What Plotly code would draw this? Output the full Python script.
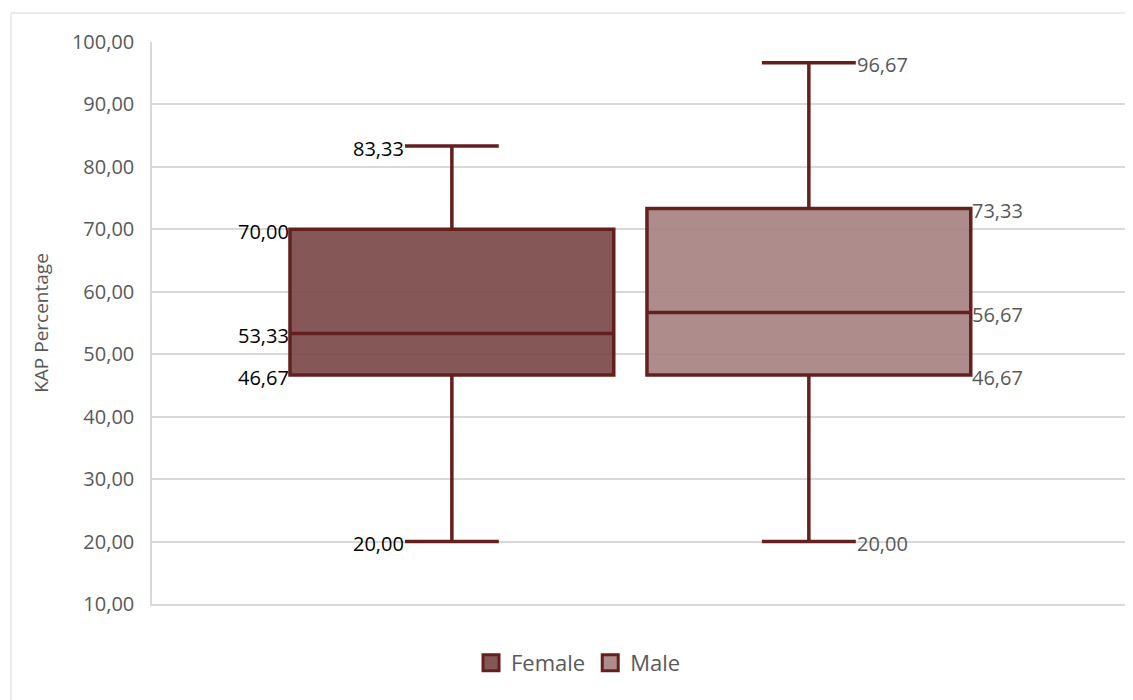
import plotly.graph_objects as go

groups = ["Female", "Male"]
lower = [20.00, 20.00]
q1 = [46.67, 46.67]
median = [53.33, 56.67]
q3 = [70.00, 73.33]
upper = [83.33, 96.67]

fills = ["rgba(120,70,69,0.9)", "rgba(165,127,126,0.9)"]
line_color = "#64201F"
label_colors = ["#000000", "#595959"]
box_w = 0.907
whisk = 0.29

def fmt(v):
    return f"{v:.2f}".replace(".", ",")

fig = go.Figure()
for i, g in enumerate(groups):
    fig.add_trace(go.Box(
        x=[i], name=g,
        q1=[q1[i]], median=[median[i]], q3=[q3[i]],
        lowerfence=[lower[i]], upperfence=[upper[i]],
        fillcolor=fills[i], line=dict(color=line_color, width=3.5),
        width=box_w, whiskerwidth=whisk, boxpoints=False,
        hoverinfo="skip", showlegend=False,
    ))
# legend swatches
for i, g in enumerate(groups):
    fig.add_trace(go.Scatter(
        x=[None], y=[None], mode="markers", name=g,
        marker=dict(symbol="square", size=16, color=fills[i],
                    line=dict(color=line_color, width=3)),
        showlegend=True,
    ))

annotations = []
for i in range(len(groups)):
    side = -1 if i == 0 else 1
    anchor = "right" if i == 0 else "left"
    box_edge = i + side * box_w / 2
    cap_edge = i + side * box_w * whisk / 2
    pts = [(upper[i], cap_edge), (q3[i], box_edge), (median[i], box_edge),
           (q1[i], box_edge), (lower[i], cap_edge)]
    for v, xp in pts:
        annotations.append(dict(
            x=xp, y=v, xref="x", yref="y", text=fmt(v), showarrow=False,
            xanchor=anchor, yanchor="middle", yshift=-2, xshift=-side * 1,
            font=dict(size=20, color=label_colors[i], family="Open Sans"),
        ))

fig.update_layout(
    width=1125, height=692,
    margin=dict(l=144, r=5, t=34, b=96),
    paper_bgcolor="white", plot_bgcolor="white",
    separators=",.",
    boxmode="overlay",
    font=dict(family="Open Sans", color="#595959"),
    showlegend=True,
    legend=dict(orientation="h", x=0.437, xanchor="center", y=-0.105, yanchor="middle",
                font=dict(size=22, color="#595959"), itemwidth=30),
    annotations=annotations,
    shapes=[dict(type="rect", xref="paper", yref="paper",
                 x0=-0.1445, x1=1.2, y0=-0.3, y1=1.0516,
                 line=dict(color="#d9d9d9", width=1), layer="below")],
)
fig.update_xaxes(type="category", range=[-0.84, 1.894], showticklabels=False,
                 showgrid=False, zeroline=False,
                 showline=True, linecolor="#d9d9d9", linewidth=1.5,
                 categoryorder="array", categoryarray=[0, 1])
fig.update_yaxes(range=[10, 100], dtick=10, tickformat=".2f",
                 showgrid=True, gridcolor="#d9d9d9", gridwidth=1.5,
                 showline=True, linecolor="#d9d9d9", linewidth=1.5,
                 zeroline=False, ticklabelstandoff=12,
                 tickfont=dict(size=20, color="#595959"),
                 title=dict(text="KAP Percentage", standoff=18,
                            font=dict(size=19, color="#595959")))

fig.write_html("out.html")
